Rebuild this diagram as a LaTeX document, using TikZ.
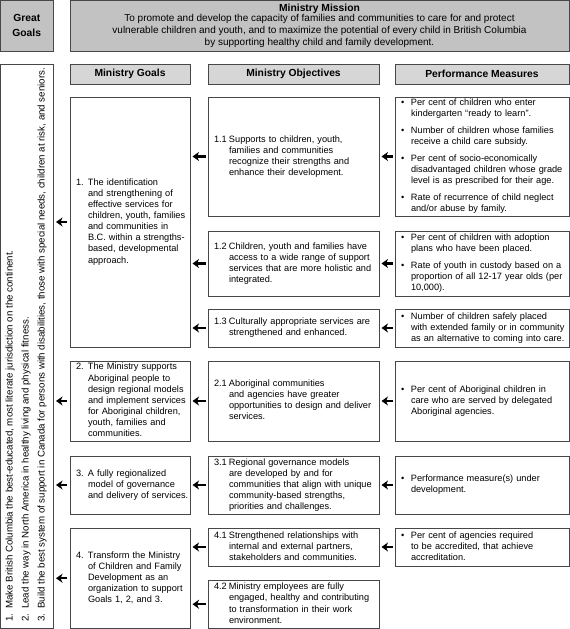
\documentclass[tikz,border=0pt]{standalone}
\usepackage{fontspec}
\setmainfont{Liberation Sans}
\usetikzlibrary{arrows.meta}
\newcommand{\bodyfont}{\fontsize{9.2}{11.1}\selectfont}
\newcommand{\headfont}{\fontsize{10.3}{12}\selectfont\bfseries}
\newcommand{\numtab}[2]{\begin{tabular}{@{}p{#1}@{}l@{}}#2\end{tabular}}
\begin{document}
\begin{tikzpicture}[x=1pt,y=-1pt,
  box/.style={draw=black!72, line width=0.85pt, fill=white, inner sep=0pt, outer sep=0pt},
  graybox/.style={box, fill=black!24, align=center},
  headbox/.style={box, fill=black!16, font=\headfont, align=center},
  txt/.style={text width=#1, align=left, font=\bodyfont},
  vtxt/.style={rotate=90, anchor=west, font=\fontsize{9.7}{11}\selectfont, inner sep=0pt},
  arr/.style={line width=2.3pt, -{Stealth[length=6.5pt,width=9pt,inset=2pt]}},
]
\useasboundingbox (0,0) rectangle (570,629);

% top row
\node[graybox, minimum width=52.5pt, minimum height=50.5pt, font=\headfont] (gg) at (26.75,25.75) {Great\\[3pt]Goals};
\node[graybox, minimum width=499pt, minimum height=50.5pt, font=\fontsize{10}{12}\selectfont] (mission) at (319.5,25.75)
  {{\headfont Ministry Mission}\\[-1.5pt]
   To promote and develop the capacity of families and communities to care for and protect\\
   vulnerable children and youth, and to maximize the potential of every child in British Columbia\\
   by supporting healthy child and family development.};

% left column with great goals
\node[box, minimum width=52.5pt, minimum height=564.5pt] (lb) at (26.75,346.25) {};
\node[vtxt] (v1) at (10,622) {\makebox[13pt][l]{1.}Make British Columbia the best-educated, most literate jurisdiction on the continent.};
\node[vtxt] (v2) at (26,622) {\makebox[13pt][l]{2.}Lead the way in North America in healthy living and physical fitness.};
\node[vtxt] (v3) at (42,622) {\makebox[13pt][l]{3.}Build the best system of support in Canada for persons with disabilities, those with special needs, children at risk, and seniors.};

% headers
\node[headbox, minimum width=120pt, minimum height=20pt] (hg) at (130,74) {Ministry Goals};
\node[headbox, minimum width=171pt, minimum height=20pt] (ho) at (293.5,74) {Ministry Objectives};
\node[headbox, minimum width=174pt, minimum height=20pt] (hp) at (482,74) {Performance Measures};

% goals
\node[box, txt=108pt, minimum width=120pt, minimum height=250pt] (g1) at (130,222) {\numtab{12pt}{1. & The identification\\ & and strengthening of\\ & effective services for\\ & children, youth, families\\ & and communities in\\ & B.C. within a strengths-\\ & based, developmental\\ & approach.}};
\node[box, txt=108pt, minimum width=120pt, minimum height=80pt] (g2) at (130,401) {\numtab{12pt}{2. & The Ministry supports\\ & Aboriginal people to\\ & design regional models\\ & and implement services\\ & for Aboriginal children,\\ & youth, families and\\ & communities.}};
\node[box, txt=108pt, minimum width=120pt, minimum height=58pt] (g3) at (130,485) {\numtab{12pt}{3. & A fully regionalized\\ & model of governance\\ & and delivery of services.}};
\node[box, txt=108pt, minimum width=120pt, minimum height=100.5pt] (g4) at (130,578.25) {\numtab{12pt}{4. & Transform the Ministry\\ & of Children and Family\\ & Development as an\\ & organization to support\\ & Goals 1, 2, and 3.}};

% objectives
\node[box, txt=159pt, minimum width=171pt, minimum height=119pt] (o11) at (293.5,156.5) {\numtab{15pt}{1.1 & Supports to children, youth,\\ & families and communities\\ & recognize their strengths and\\ & enhance their development.}};
\node[box, txt=159pt, minimum width=171pt, minimum height=65pt] (o12) at (293.5,263.5) {\numtab{15pt}{1.2 & Children, youth and families have\\ & access to a wide range of support\\ & services that are more holistic and\\ & integrated.}};
\node[box, txt=159pt, minimum width=171pt, minimum height=38pt] (o13) at (293.5,328) {\numtab{15pt}{1.3 & Culturally appropriate services are\\ & strengthened and enhanced.}};
\node[box, txt=159pt, minimum width=171pt, minimum height=80pt] (o21) at (293.5,401) {\numtab{15pt}{2.1 & Aboriginal communities\\ & and agencies have greater\\ & opportunities to design and deliver\\ & services.}};
\node[box, txt=159pt, minimum width=171pt, minimum height=58pt] (o31) at (293.5,485) {\numtab{15pt}{3.1 & Regional governance models\\ & are developed by and for\\ & communities that align with unique\\ & community-based strengths,\\ & priorities and challenges.}};
\node[box, txt=159pt, minimum width=171pt, minimum height=38pt] (o41) at (293.5,547) {\numtab{15pt}{4.1 & Strengthened relationships with\\ & internal and external partners,\\ & stakeholders and communities.}};
\node[box, txt=159pt, minimum width=171pt, minimum height=48.5pt] (o42) at (293.5,604.25) {\numtab{15pt}{4.2 & Ministry employees are fully\\ & engaged, healthy and contributing\\ & to transformation in their work\\ & environment.}};

% performance measures
\node[box, txt=162pt, minimum width=174pt, minimum height=119pt] (p1) at (482,156.5) {\numtab{10pt}{\textbullet & Per cent of children who enter\\ & kindergarten “ready to learn”.\\[5.7pt] \textbullet & Number of children whose families\\ & receive a child care subsidy.\\[5.7pt] \textbullet & Per cent of socio-economically\\ & disadvantaged children whose grade\\ & level is as prescribed for their age.\\[5.7pt] \textbullet & Rate of recurrence of child neglect\\ & and/or abuse by family.}};
\node[box, txt=162pt, minimum width=174pt, minimum height=65pt] (p2) at (482,263.5) {\numtab{10pt}{\textbullet & Per cent of children with adoption\\ & plans who have been placed.\\[5.7pt] \textbullet & Rate of youth in custody based on a\\ & proportion of all 12-17 year olds (per\\ & 10,000).}};
\node[box, txt=162pt, minimum width=174pt, minimum height=38pt] (p3) at (482,328) {\numtab{10pt}{\textbullet & Number of children safely placed\\ & with extended family or in community\\ & as an alternative to coming into care.}};
\node[box, txt=162pt, minimum width=174pt, minimum height=80pt] (p4) at (482,401) {\numtab{10pt}{\textbullet & Per cent of Aboriginal children in\\ & care who are served by delegated\\ & Aboriginal agencies.}};
\node[box, txt=162pt, minimum width=174pt, minimum height=58pt] (p5) at (482,485) {\numtab{10pt}{\textbullet & Performance measure(s) under\\ & development.}};
\node[box, txt=162pt, minimum width=174pt, minimum height=38pt] (p6) at (482,547) {\numtab{10pt}{\textbullet & Per cent of agencies required\\ & to be accredited, that achieve\\ & accreditation.}};

% arrows: goals -> great goals
\foreach \g in {g1,g2,g3,g4}
  \draw[arr, shorten >=3pt, shorten <=3pt] (\g.west) -- (lb.east |- \g.west);
% objectives -> goals
\foreach \o/\g in {o11/g1,o12/g1,o13/g1,o21/g2,o31/g3,o41/g4,o42/g4}
  \draw[arr, shorten >=2.5pt, shorten <=2.5pt] (\o.west) -- (\g.east |- \o.west);
% measures -> objectives
\foreach \p/\o in {p1/o11,p2/o12,p3/o13,p4/o21,p5/o31,p6/o41}
  \draw[arr, shorten >=2.5pt, shorten <=2.5pt] (\p.west) -- (\o.east |- \p.west);
\end{tikzpicture}
\end{document}
